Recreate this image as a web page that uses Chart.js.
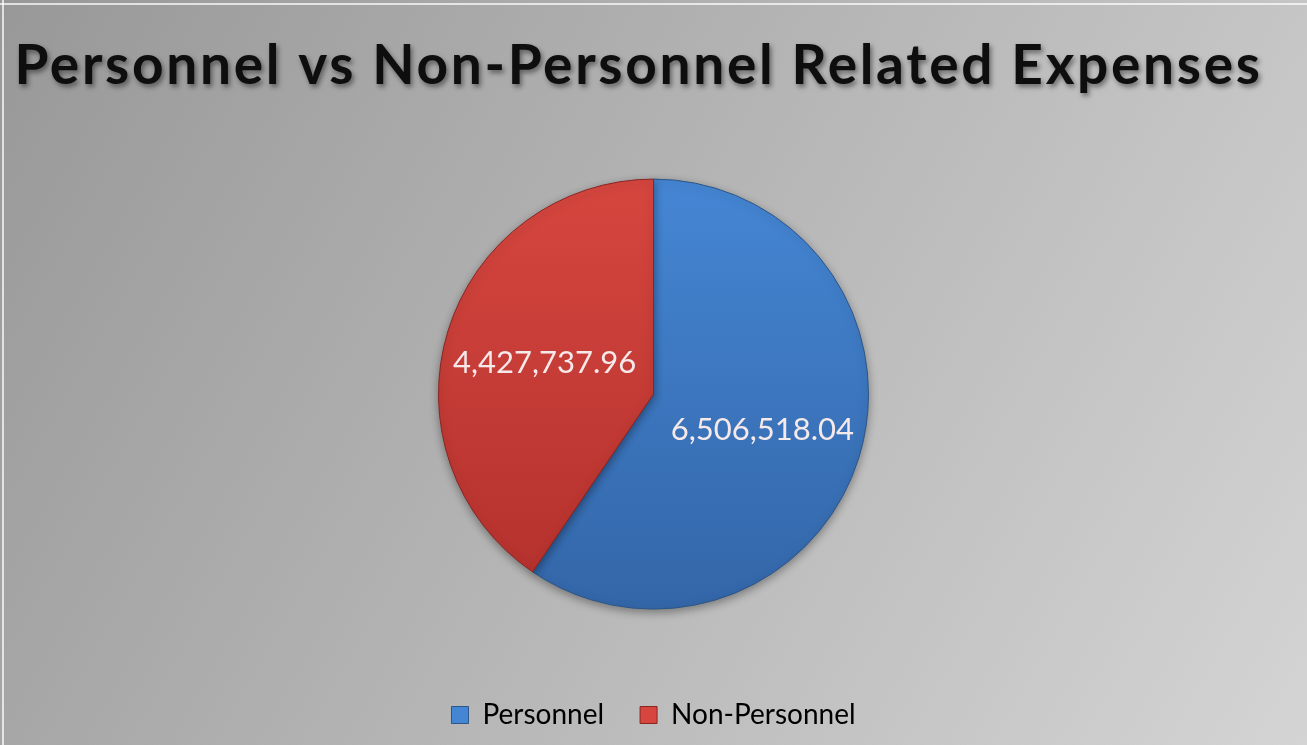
<!DOCTYPE html>
<html>
<head>
<meta charset="utf-8">
<script src="https://cdn.jsdelivr.net/npm/chart.js@4"></script>
<style>
  html, body { margin: 0; padding: 0; background: #b0b0b0; }
  #wrap { width: 1307px; height: 745px; }
</style>
</head>
<body>
<div id="wrap"><canvas id="expenses-pie" width="1307" height="745"></canvas></div>
<script>
// chart data
const categories = ['Personnel', 'Non-Personnel'];
const amounts = [6506518.04, 4427737.96];
const titleText = 'Personnel vs Non-Personnel Related Expenses';

// [top, bottom, edge] per slice
const sliceColors = [
    ['#4586d4', '#3366a8', '#2c5688'],
    ['#d6463f', '#b2302c', '#8a2522']
];

function fmt(v) {
    return v.toLocaleString('en-US', { minimumFractionDigits: 2, maximumFractionDigits: 2 });
}

function sliceFill(ctx) {
    const chart = ctx.chart;
    const area = chart.chartArea;
    const c = sliceColors[ctx.dataIndex % sliceColors.length];
    if (!area) return c[0];
    const cy = (area.top + area.bottom) / 2;
    const g = chart.ctx.createLinearGradient(0, cy - 215, 0, cy + 215);
    g.addColorStop(0, c[0]);
    g.addColorStop(1, c[1]);
    return g;
}

// grey backdrop + title shadow + value labels
const backdrop = {
    id: 'backdrop',
    beforeDraw(chart) {
        const { ctx, width, height } = chart;
        ctx.save();
        const g = ctx.createLinearGradient(0, 0, width, height);
        g.addColorStop(0, '#989898');
        g.addColorStop(0.5, '#b6b6b6');
        g.addColorStop(1, '#d4d4d4');
        ctx.fillStyle = g;
        ctx.fillRect(0, 0, width, height);
        ctx.fillStyle = 'rgba(255,255,255,0.7)';
        ctx.fillRect(0, 3, width, 2);
        ctx.fillRect(2, 0, 2, height);
        ctx.restore();
        ctx.save();
        ctx.shadowColor = 'rgba(0,0,0,0.45)';
        ctx.shadowBlur = 5;
        ctx.shadowOffsetX = 2;
        ctx.shadowOffsetY = 3;
        ctx.font = 'bold 55px Lato';
        ctx.letterSpacing = '2.7px';
        ctx.fillStyle = '#0e0e0e';
        ctx.textAlign = 'center';
        ctx.textBaseline = 'middle';
        ctx.fillText(titleText, width / 2 - 15, 66);
        ctx.restore();
    },
    beforeDatasetsDraw(chart) {
        const ctx = chart.ctx;
        ctx.save();
        ctx.shadowColor = 'rgba(0,0,0,0.35)';
        ctx.shadowBlur = 8;
        ctx.shadowOffsetY = 3;
    },
    afterDatasetsDraw(chart) {
        chart.ctx.restore();
        const ctx = chart.ctx;
        const meta = chart.getDatasetMeta(0);
        ctx.save();
        ctx.font = '31px Lato';
        ctx.fillStyle = '#f5e9e9';
        ctx.textAlign = 'center';
        ctx.textBaseline = 'middle';
        meta.data.forEach((arc, i) => {
            const mid = (arc.startAngle + arc.endAngle) / 2;
            const d = arc.outerRadius * 0.53;
            ctx.fillText(fmt(amounts[i]), arc.x + Math.cos(mid) * d, arc.y + Math.sin(mid) * d + 2);
        });
        ctx.restore();
    }
};

new Chart(document.getElementById('expenses-pie'), {
    type: 'pie',
    data: {
        labels: categories,
        datasets: [{
            data: amounts,
            backgroundColor: sliceFill,
            borderColor: sliceColors.map(c => c[2]),
            borderWidth: 1,
            radius: 215
        }]
    },
    options: {
        responsive: false,
        animation: false,
        layout: { padding: { top: 0, bottom: 6, left: 0, right: 0 } },
        plugins: {
            title: {
                display: true,
                text: '',
                padding: { top: 0, bottom: 122 },
                font: { size: 1 }
            },
            legend: {
                position: 'bottom',
                labels: {
                    color: '#1a1a1a',
                    font: { family: 'Lato', size: 28 },
                    boxWidth: 17,
                    boxHeight: 17,
                    padding: 36,
                    generateLabels(chart) {
                        return categories.map((c, i) => ({
                            text: c,
                            fillStyle: sliceColors[i][0],
                            strokeStyle: sliceColors[i][2],
                            lineWidth: 1,
                            index: i
                        }));
                    }
                }
            },
            tooltip: { enabled: false }
        }
    },
    plugins: [backdrop]
});
</script>
</body>
</html>
